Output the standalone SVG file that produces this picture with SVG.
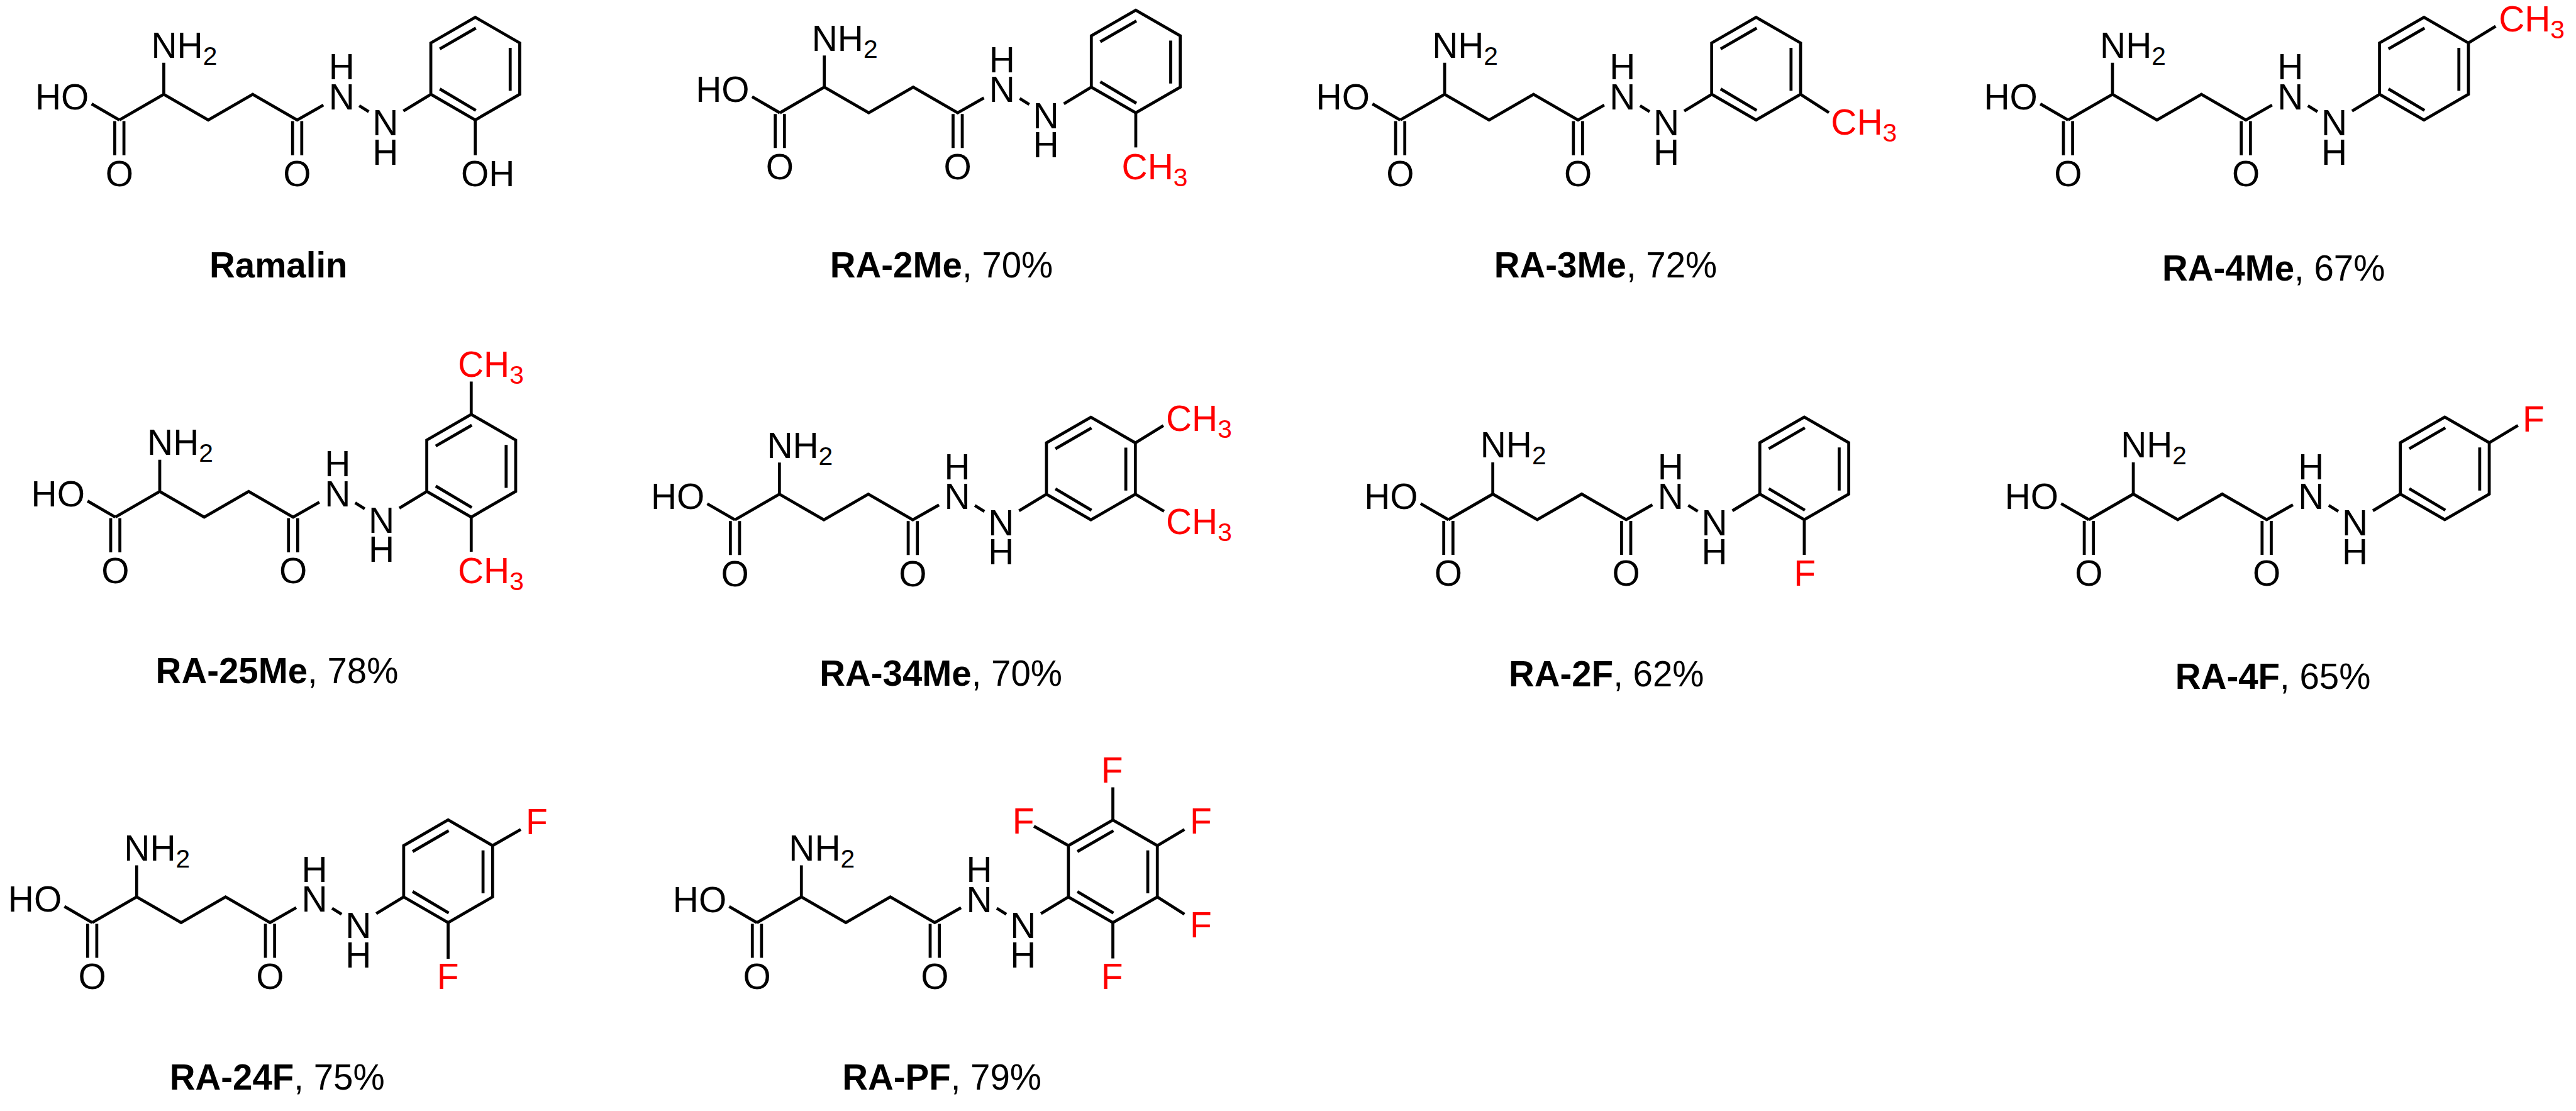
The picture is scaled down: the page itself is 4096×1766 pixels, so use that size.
<svg xmlns="http://www.w3.org/2000/svg" xmlns:xlink="http://www.w3.org/1999/xlink" width="4096" height="1766" viewBox="0 0 4096 1766">
<style>
.bond{fill:none;stroke:#000;stroke-width:5;stroke-linejoin:miter;stroke-linecap:butt}
text{font-family:"Liberation Sans",Arial,sans-serif;font-size:60px;fill:#000}
.m{text-anchor:middle}
.r{fill:#f00}
.s{font-size:43px}
.cap{font-size:59.5px}
.b{font-weight:bold}
</style>
<defs>
<path id="backbone" class="bond" d="M-74.5 43L0 0L74.5 43L149 0L223.5 43L267.5 18M-121 16L-74.5 43M0 -53V0M-82.2 45V102M-66.8 45V102M215.8 45V102M231.2 45V102M327.5 19L343.5 29M401.5 28L447.5 0M447.5 0V-86L522 -129L596.5 -86V0L522 43ZM462.5 -76L523 -111M462.5 -9L523 27M580.5 -78V-6"/>
</defs>
<rect width="4096" height="1766" fill="#fff"/>
<g transform="scale(0.94881)">

<g id="ramalin">
<g transform="translate(274.5 158)">
<use href="#backbone"/>
<path class="bond" d="M522 43V102"/>
<text x="-21" y="-61">NH<tspan class="s" dy="11.5">2</tspan></text>
<text x="-215.5" y="25">HO</text>
<text class="m" x="-74.5" y="154">O</text>
<text class="m" x="223.5" y="154">O</text>
<text class="m"><tspan x="298" y="-25">H</tspan><tspan x="298" y="25">N</tspan></text>
<text class="m"><tspan x="371.5" y="69">N</tspan><tspan x="371.5" y="118">H</tspan></text>
<text x="498" y="154">OH</text>
</g>
<text class="cap b" x="351" y="465">Ramalin</text>
</g>

<g id="ra-2me">
<g transform="translate(1381.4 146)">
<use href="#backbone"/>
<path class="bond" d="M522 43V101"/>
<text x="-21" y="-61">NH<tspan class="s" dy="11.5">2</tspan></text>
<text x="-215.5" y="25">HO</text>
<text class="m" x="-74.5" y="154">O</text>
<text class="m" x="223.5" y="154">O</text>
<text class="m"><tspan x="298" y="-25">H</tspan><tspan x="298" y="25">N</tspan></text>
<text class="m"><tspan x="371.5" y="69">N</tspan><tspan x="371.5" y="118">H</tspan></text>
<text class="r" x="498.4" y="154">CH<tspan class="s" dy="11.5">3</tspan></text>
</g>
<text class="cap" x="1391" y="465"><tspan class="b">RA-2Me</tspan>, 70%</text>
</g>

<g id="ra-3me">
<g transform="translate(2421 158)">
<use href="#backbone"/>
<path class="bond" d="M596.5 0L644 30.7"/>
<text x="-21" y="-61">NH<tspan class="s" dy="11.5">2</tspan></text>
<text x="-215.5" y="25">HO</text>
<text class="m" x="-74.5" y="154">O</text>
<text class="m" x="223.5" y="154">O</text>
<text class="m"><tspan x="298" y="-25">H</tspan><tspan x="298" y="25">N</tspan></text>
<text class="m"><tspan x="371.5" y="69">N</tspan><tspan x="371.5" y="118">H</tspan></text>
<text class="r" x="647.4" y="68">CH<tspan class="s" dy="11.5">3</tspan></text>
</g>
<text class="cap" x="2504" y="465"><tspan class="b">RA-3Me</tspan>, 72%</text>
</g>

<g id="ra-4me">
<g transform="translate(3540.2 158)">
<use href="#backbone"/>
<path class="bond" d="M596.5 -86L642.2 -114"/>
<text x="-21" y="-61">NH<tspan class="s" dy="11.5">2</tspan></text>
<text x="-215.5" y="25">HO</text>
<text class="m" x="-74.5" y="154">O</text>
<text class="m" x="223.5" y="154">O</text>
<text class="m"><tspan x="298" y="-25">H</tspan><tspan x="298" y="25">N</tspan></text>
<text class="m"><tspan x="371.5" y="69">N</tspan><tspan x="371.5" y="118">H</tspan></text>
<text class="r" x="647.3" y="-105">CH<tspan class="s" dy="11.5">3</tspan></text>
</g>
<text class="cap" x="3623.5" y="470.5"><tspan class="b">RA-4Me</tspan>, 67%</text>
</g>

<g id="ra-25me">
<g transform="translate(267.7 823.3)">
<use href="#backbone"/>
<path class="bond" d="M522 43V101M522 -129V-184"/>
<text x="-21" y="-61">NH<tspan class="s" dy="11.5">2</tspan></text>
<text x="-215.5" y="25">HO</text>
<text class="m" x="-74.5" y="154">O</text>
<text class="m" x="223.5" y="154">O</text>
<text class="m"><tspan x="298" y="-25">H</tspan><tspan x="298" y="25">N</tspan></text>
<text class="m"><tspan x="371.5" y="69">N</tspan><tspan x="371.5" y="118">H</tspan></text>
<text class="r" x="499.6" y="-192">CH<tspan class="s" dy="11.5">3</tspan></text>
<text class="r" x="499.6" y="153.5">CH<tspan class="s" dy="11.5">3</tspan></text>
</g>
<text class="cap" x="261" y="1144.7"><tspan class="b">RA-25Me</tspan>, 78%</text>
</g>

<g id="ra-34me">
<g transform="translate(1306.2 827.9)">
<use href="#backbone"/>
<path class="bond" d="M596.5 -86L643.5 -115M596.5 0L644.6 28.7"/>
<text x="-21" y="-61">NH<tspan class="s" dy="11.5">2</tspan></text>
<text x="-215.5" y="25">HO</text>
<text class="m" x="-74.5" y="154">O</text>
<text class="m" x="223.5" y="154">O</text>
<text class="m"><tspan x="298" y="-25">H</tspan><tspan x="298" y="25">N</tspan></text>
<text class="m"><tspan x="371.5" y="69">N</tspan><tspan x="371.5" y="118">H</tspan></text>
<text class="r" x="647.8" y="-106">CH<tspan class="s" dy="11.5">3</tspan></text>
<text class="r" x="647.8" y="67">CH<tspan class="s" dy="11.5">3</tspan></text>
</g>
<text class="cap" x="1373.5" y="1149"><tspan class="b">RA-34Me</tspan>, 70%</text>
</g>

<g id="ra-2f">
<g transform="translate(2501.7 827.7)">
<use href="#backbone"/>
<path class="bond" d="M522 43V102"/>
<text x="-21" y="-61">NH<tspan class="s" dy="11.5">2</tspan></text>
<text x="-215.5" y="25">HO</text>
<text class="m" x="-74.5" y="154">O</text>
<text class="m" x="223.5" y="154">O</text>
<text class="m"><tspan x="298" y="-25">H</tspan><tspan x="298" y="25">N</tspan></text>
<text class="m"><tspan x="371.5" y="69">N</tspan><tspan x="371.5" y="118">H</tspan></text>
<text class="r" x="504.4" y="153.8">F</text>
</g>
<text class="cap" x="2528.5" y="1150"><tspan class="b">RA-2F</tspan>, 62%</text>
</g>

<g id="ra-4f">
<g transform="translate(3575.1 827.7)">
<use href="#backbone"/>
<path class="bond" d="M596.5 -86L644.7 -115"/>
<text x="-21" y="-61">NH<tspan class="s" dy="11.5">2</tspan></text>
<text x="-215.5" y="25">HO</text>
<text class="m" x="-74.5" y="154">O</text>
<text class="m" x="223.5" y="154">O</text>
<text class="m"><tspan x="298" y="-25">H</tspan><tspan x="298" y="25">N</tspan></text>
<text class="m"><tspan x="371.5" y="69">N</tspan><tspan x="371.5" y="118">H</tspan></text>
<text class="r" x="652.2" y="-105">F</text>
</g>
<text class="cap" x="3645.5" y="1154"><tspan class="b">RA-4F</tspan>, 65%</text>
</g>

<g id="ra-24f">
<g transform="translate(229 1502.6)">
<use href="#backbone"/>
<path class="bond" d="M596.5 -86L643.7 -113M522 43V103.7"/>
<text x="-21" y="-61">NH<tspan class="s" dy="11.5">2</tspan></text>
<text x="-215.5" y="25">HO</text>
<text class="m" x="-74.5" y="154">O</text>
<text class="m" x="223.5" y="154">O</text>
<text class="m"><tspan x="298" y="-25">H</tspan><tspan x="298" y="25">N</tspan></text>
<text class="m"><tspan x="371.5" y="69">N</tspan><tspan x="371.5" y="118">H</tspan></text>
<text class="r" x="652.2" y="-105">F</text>
<text class="r" x="503.2" y="154.6">F</text>
</g>
<text class="cap" x="284.3" y="1825"><tspan class="b">RA-24F</tspan>, 75%</text>
</g>

<g id="ra-pf">
<g transform="translate(1343 1502.7)">
<use href="#backbone"/>
<path class="bond" d="M522 43V103M522 -129V-183.8M447.5 -86L389.7 -118.5M596.5 -86L642 -113M596.5 0L642 29"/>
<text x="-21" y="-61">NH<tspan class="s" dy="11.5">2</tspan></text>
<text x="-215.5" y="25">HO</text>
<text class="m" x="-74.5" y="154">O</text>
<text class="m" x="223.5" y="154">O</text>
<text class="m"><tspan x="298" y="-25">H</tspan><tspan x="298" y="25">N</tspan></text>
<text class="m"><tspan x="371.5" y="69">N</tspan><tspan x="371.5" y="118">H</tspan></text>
<text class="r" x="502.2" y="-192">F</text>
<text class="r" x="353.6" y="-106">F</text>
<text class="r" x="651.2" y="-106">F</text>
<text class="r" x="651.2" y="67.5">F</text>
<text class="r" x="502.2" y="154">F</text>
</g>
<text class="cap" x="1411.5" y="1825"><tspan class="b">RA-PF</tspan>, 79%</text>
</g>

</g>
</svg>
